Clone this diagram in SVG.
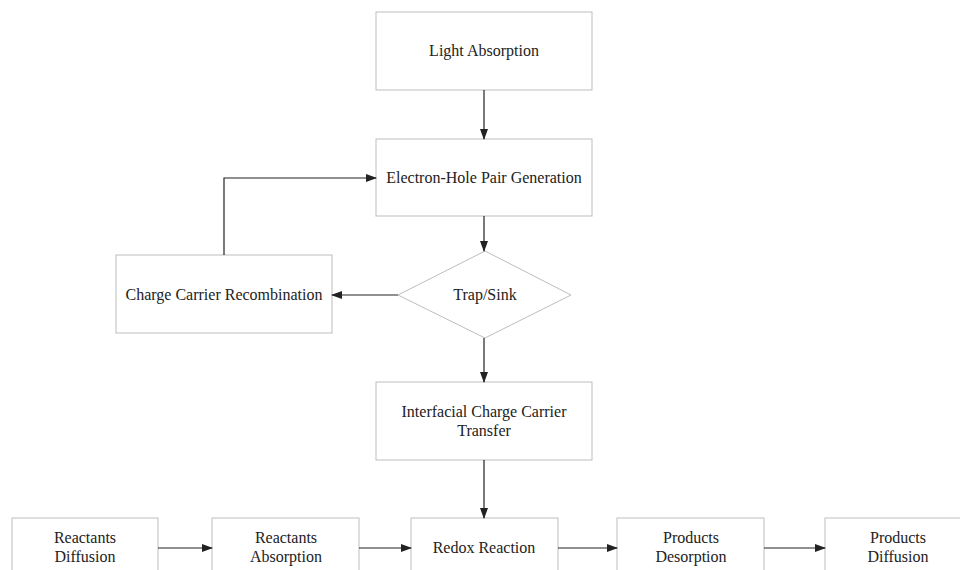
<svg xmlns="http://www.w3.org/2000/svg" width="960" height="570" viewBox="0 0 960 570">
<defs>
<style>
.box{fill:#fff;stroke:#bdbdbd;stroke-width:1}
.lbl{font-family:'Liberation Serif','DejaVu Serif',serif;font-size:16px;fill:#222;text-anchor:middle}
.con{fill:none;stroke:#222;stroke-width:1.2}
</style>
<marker id="ah" markerWidth="11" markerHeight="8" refX="10" refY="4" orient="auto" markerUnits="userSpaceOnUse">
<path d="M0,0 L11,4 L0,8 Z" fill="#222"/>
</marker>
</defs>
<rect width="960" height="570" fill="#fff"/>
<g id="light">
<rect class="box" x="376" y="12" width="216" height="78"/>
<text class="lbl" x="484" y="56">Light Absorption</text>
</g>
<g id="ehp">
<rect class="box" x="376" y="139" width="216" height="77"/>
<text class="lbl" x="484" y="183">Electron-Hole Pair Generation</text>
</g>
<g id="trap">
<polygon class="box" points="485,251 571,295 485,338 398,295"/>
<text class="lbl" x="485" y="300">Trap/Sink</text>
</g>
<g id="recomb">
<rect class="box" x="116" y="255" width="216" height="78"/>
<text class="lbl" x="224" y="300">Charge Carrier Recombination</text>
</g>
<g id="interfacial">
<rect class="box" x="376" y="382" width="216" height="78"/>
<text class="lbl" x="484" y="417">Interfacial Charge Carrier</text>
<text class="lbl" x="484" y="436">Transfer</text>
</g>
<g id="reactdiff">
<rect class="box" x="12" y="518" width="146" height="78"/>
<text class="lbl" x="85" y="543">Reactants</text>
<text class="lbl" x="85" y="562">Diffusion</text>
</g>
<g id="reactabs">
<rect class="box" x="212" y="518" width="147" height="78"/>
<text class="lbl" x="286" y="543">Reactants</text>
<text class="lbl" x="286" y="562">Absorption</text>
</g>
<g id="redox">
<rect class="box" x="411" y="518" width="147" height="78"/>
<text class="lbl" x="484" y="553">Redox Reaction</text>
</g>
<g id="proddes">
<rect class="box" x="617" y="518" width="147" height="78"/>
<text class="lbl" x="691" y="543">Products</text>
<text class="lbl" x="691" y="562">Desorption</text>
</g>
<g id="proddiff">
<rect class="box" x="825" y="518" width="147" height="78"/>
<text class="lbl" x="898" y="543">Products</text>
<text class="lbl" x="898" y="562">Diffusion</text>
</g>
<g id="connectors">
<line class="con" x1="484" y1="90" x2="484" y2="139" marker-end="url(#ah)"/>
<line class="con" x1="484" y1="216" x2="484" y2="251" marker-end="url(#ah)"/>
<line class="con" x1="398" y1="295" x2="332" y2="295" marker-end="url(#ah)"/>
<polyline class="con" points="224,255 224,178 376,178" marker-end="url(#ah)"/>
<line class="con" x1="484" y1="338" x2="484" y2="382" marker-end="url(#ah)"/>
<line class="con" x1="484" y1="460" x2="484" y2="518" marker-end="url(#ah)"/>
<line class="con" x1="158" y1="548" x2="212" y2="548" marker-end="url(#ah)"/>
<line class="con" x1="359" y1="548" x2="411" y2="548" marker-end="url(#ah)"/>
<line class="con" x1="558" y1="548" x2="617" y2="548" marker-end="url(#ah)"/>
<line class="con" x1="764" y1="548" x2="825" y2="548" marker-end="url(#ah)"/>
</g>
</svg>
